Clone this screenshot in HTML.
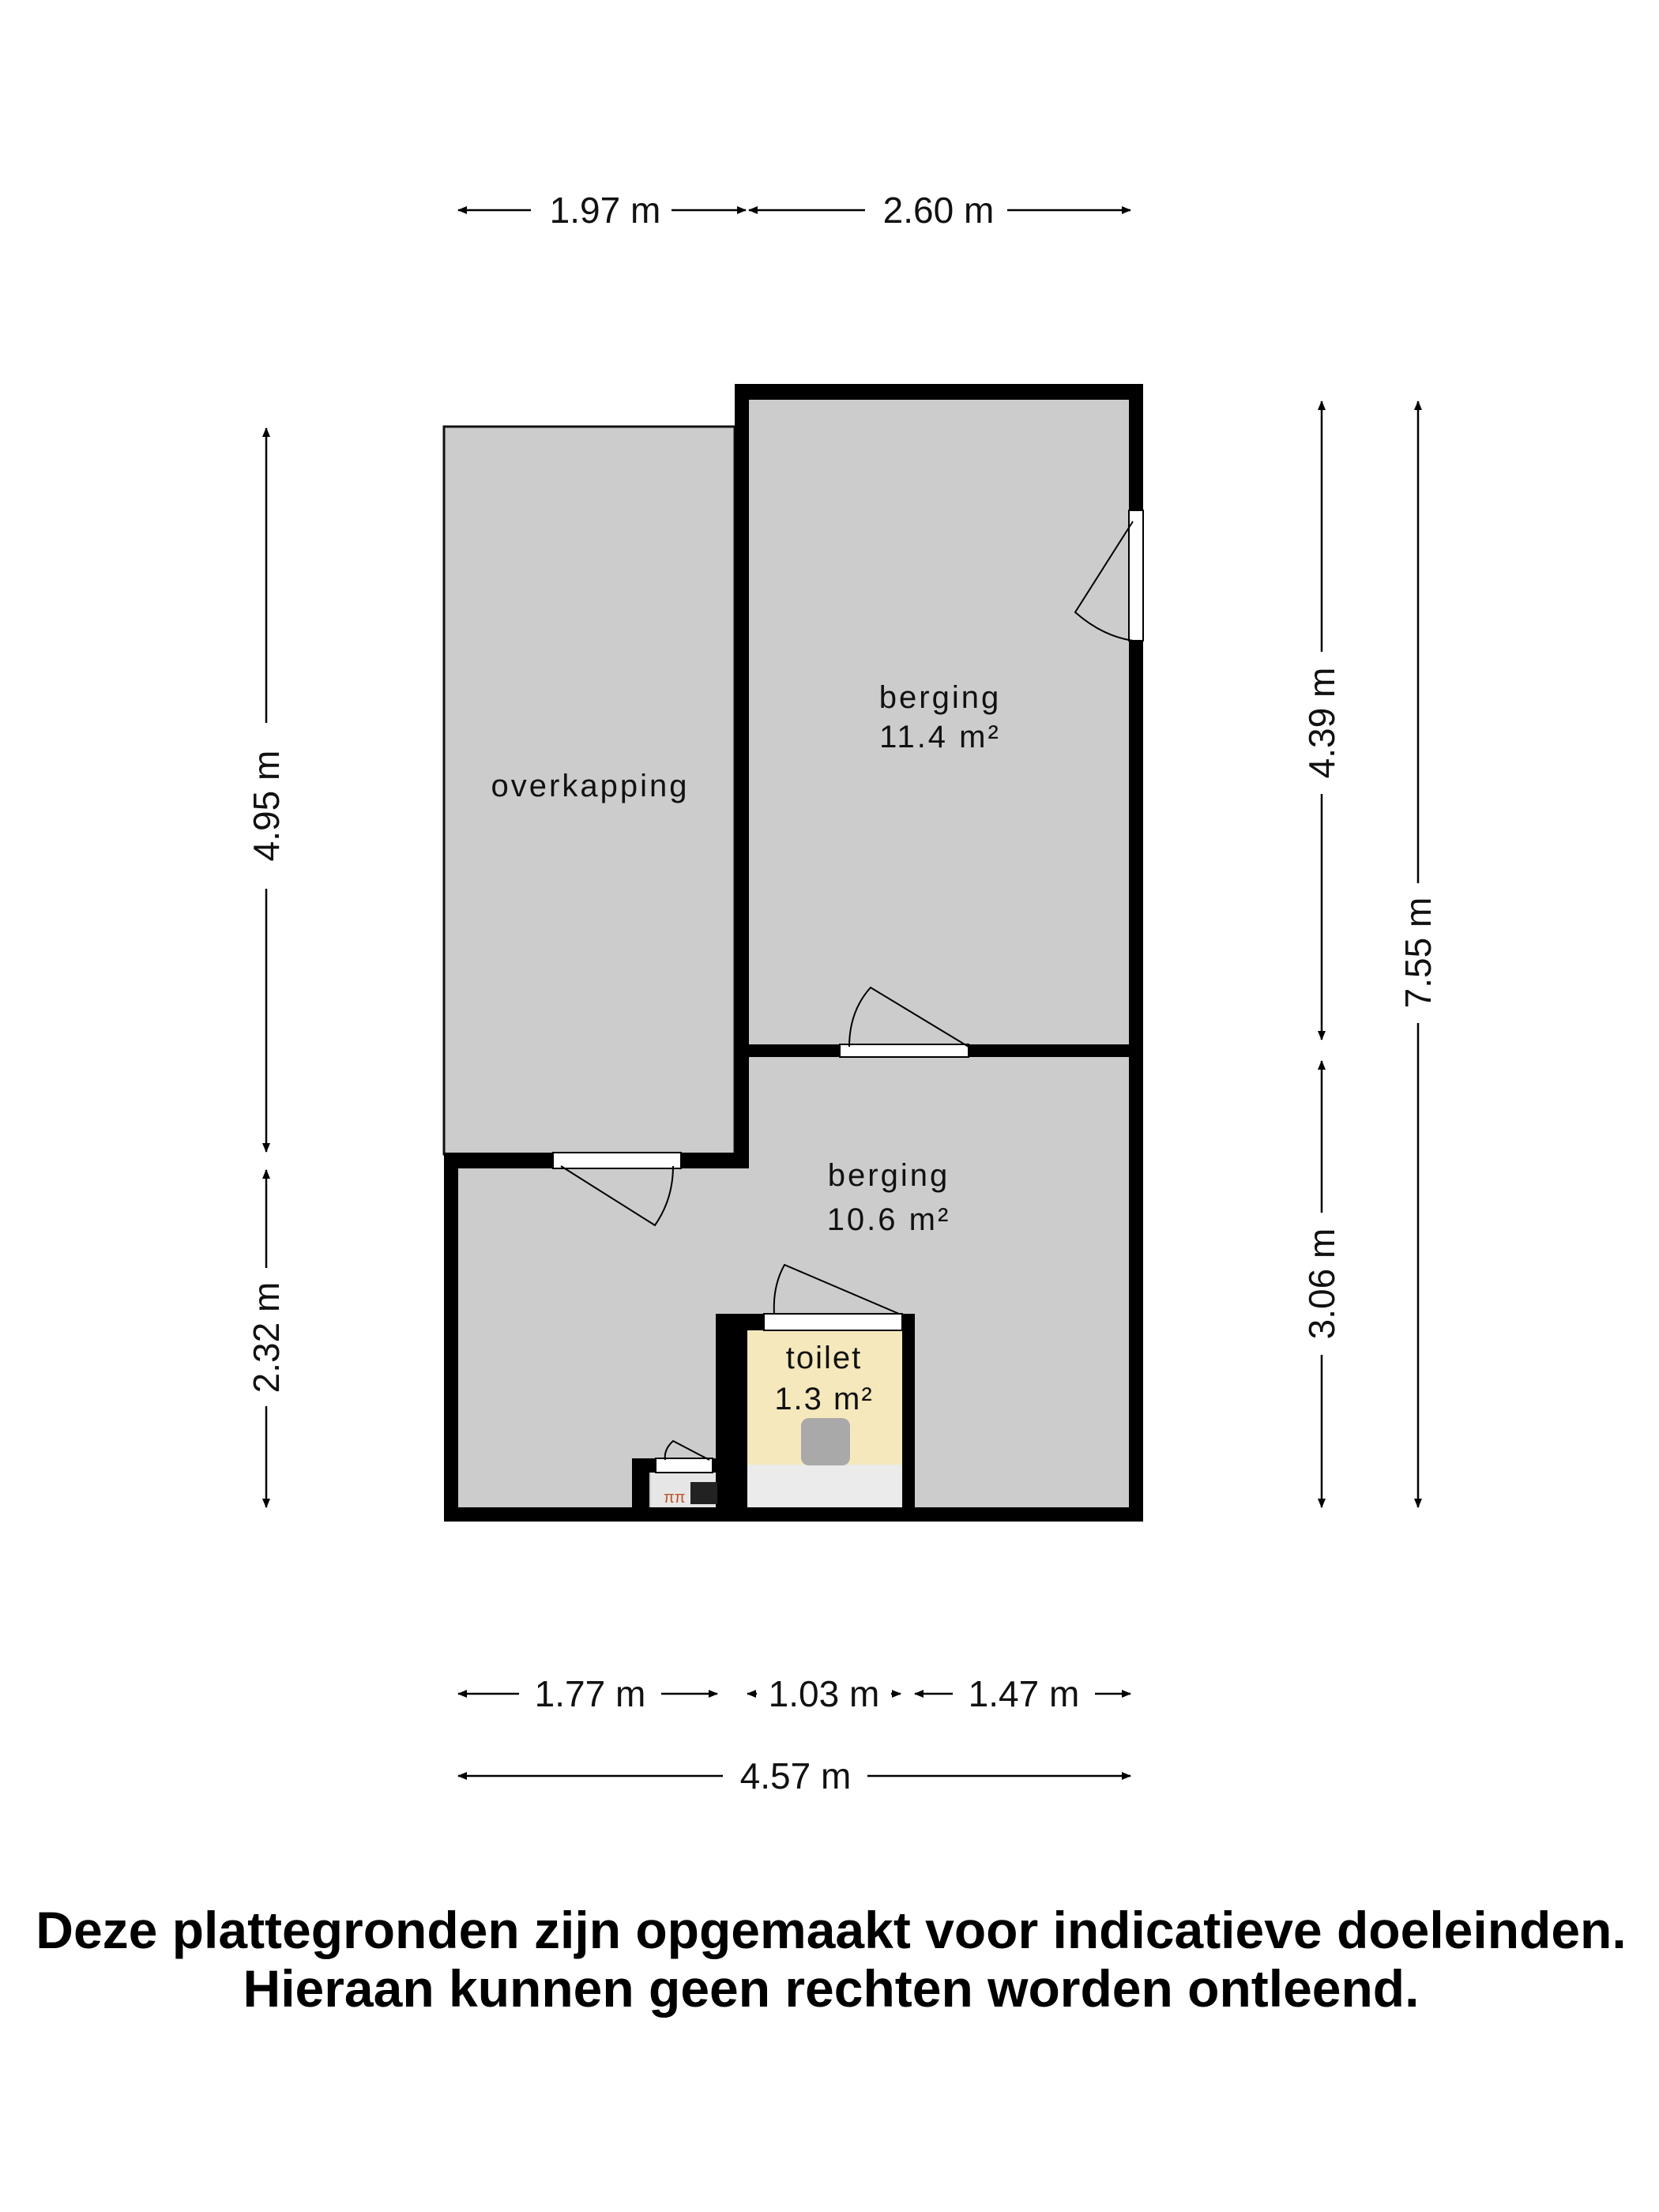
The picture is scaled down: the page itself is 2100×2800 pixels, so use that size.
<!DOCTYPE html>
<html><head><style>
html,body{margin:0;padding:0;background:#fff;}
svg{display:block;font-family:"Liberation Sans",sans-serif;}
</style></head><body>
<svg width="2100" height="2800" viewBox="0 0 2100 2800" xmlns="http://www.w3.org/2000/svg">
<defs>
<marker id="a" markerWidth="12" markerHeight="10" refX="11" refY="5" orient="auto-start-reverse" markerUnits="userSpaceOnUse"><path d="M0,0 L12,5 L0,10 z" fill="#000"/></marker>
</defs>
<rect x="562" y="540" width="368" height="921" fill="#cccccc" stroke="#111" stroke-width="3"/>
<rect x="940" y="500" width="500" height="1410" fill="#cccccc"/>
<rect x="575" y="1470" width="370" height="440" fill="#cccccc"/>
<rect x="946" y="1684" width="196" height="170" fill="#f5e8bc"/>
<rect x="946" y="1854" width="196" height="54" fill="#ebebeb"/>
<rect x="824" y="1864" width="86" height="44" fill="#e6e6e6"/>
<rect x="1014" y="1795" width="62" height="60" rx="10" fill="#a9a9a9"/>
<g fill="#000">
<rect x="930" y="486" width="517" height="20"/>
<rect x="1429" y="486" width="18" height="1440"/>
<rect x="930" y="486" width="18" height="993"/>
<rect x="930" y="1322" width="517" height="16"/>
<rect x="562" y="1459" width="386" height="20"/>
<rect x="562" y="1459" width="18" height="467"/>
<rect x="562" y="1908" width="885" height="18"/>
<rect x="906" y="1663" width="40" height="263"/>
<rect x="1142" y="1663" width="16" height="263"/>
<rect x="906" y="1663" width="252" height="21"/>
<rect x="800" y="1846" width="22" height="80"/>
<rect x="800" y="1846" width="108" height="18"/>
</g>
<rect x="874" y="1876" width="34" height="28" fill="#222"/>
<text x="840" y="1902" font-size="20" fill="#c0502a">ππ</text>
<g stroke="#000" stroke-width="2" fill="none">
<rect x="1429" y="646" width="18" height="165" fill="#fff"/>
<path d="M1434,660 L1361,775 Q1395,805 1434,811"/>
<rect x="1063" y="1322" width="163" height="16" fill="#fff"/>
<path d="M1226,1325 L1102,1250 Q1075,1280 1075,1325"/>
<rect x="700" y="1459" width="162" height="20" fill="#fff"/>
<path d="M710,1476 L829,1551 Q852,1518 852,1476"/>
<rect x="967" y="1663" width="175" height="21" fill="#fff"/>
<path d="M1138,1663 L993,1601 Q978,1628 980,1663"/>
<rect x="830" y="1846" width="72" height="18" fill="#fff"/>
<path d="M898,1848 L852,1824 Q840,1835 842,1848"/>
</g>
<g font-size="40" text-anchor="middle" letter-spacing="3" fill="#111">
<text x="747" y="1008">overkapping</text>
<text x="1190" y="896">berging</text>
<text x="1190" y="946">11.4 m²</text>
<text x="1125" y="1501">berging</text>
<text x="1125" y="1557">10.6 m²</text>
<text x="1043" y="1732" letter-spacing="2">toilet</text>
<text x="1043" y="1784" letter-spacing="2">1.3 m²</text>
</g>
<g stroke="#000" stroke-width="2.5" fill="none">
<line x1="580" y1="266" x2="672" y2="266" marker-start="url(#a)"/>
<line x1="850" y1="266" x2="944" y2="266" marker-end="url(#a)"/>
<line x1="948" y1="266" x2="1095" y2="266" marker-start="url(#a)"/>
<line x1="1275" y1="266" x2="1431" y2="266" marker-end="url(#a)"/>
<line x1="337" y1="542" x2="337" y2="915" marker-start="url(#a)"/>
<line x1="337" y1="1125" x2="337" y2="1458" marker-end="url(#a)"/>
<line x1="337" y1="1481" x2="337" y2="1605" marker-start="url(#a)"/>
<line x1="337" y1="1780" x2="337" y2="1908" marker-end="url(#a)"/>
<line x1="1673" y1="508" x2="1673" y2="825" marker-start="url(#a)"/>
<line x1="1673" y1="1005" x2="1673" y2="1316" marker-end="url(#a)"/>
<line x1="1673" y1="1343" x2="1673" y2="1535" marker-start="url(#a)"/>
<line x1="1673" y1="1715" x2="1673" y2="1908" marker-end="url(#a)"/>
<line x1="1795" y1="508" x2="1795" y2="1118" marker-start="url(#a)"/>
<line x1="1795" y1="1295" x2="1795" y2="1908" marker-end="url(#a)"/>
<line x1="580" y1="2144" x2="657" y2="2144" marker-start="url(#a)"/>
<line x1="837" y1="2144" x2="908" y2="2144" marker-end="url(#a)"/>
<line x1="946" y1="2144" x2="958" y2="2144" marker-start="url(#a)"/>
<line x1="1128" y1="2144" x2="1140" y2="2144" marker-end="url(#a)"/>
<line x1="1158" y1="2144" x2="1206" y2="2144" marker-start="url(#a)"/>
<line x1="1386" y1="2144" x2="1431" y2="2144" marker-end="url(#a)"/>
<line x1="580" y1="2248" x2="915" y2="2248" marker-start="url(#a)"/>
<line x1="1098" y1="2248" x2="1431" y2="2248" marker-end="url(#a)"/>
</g>
<g font-size="46" text-anchor="middle" fill="#111">
<text x="766" y="282">1.97 m</text>
<text x="1188" y="282">2.60 m</text>
<text x="747" y="2160">1.77 m</text>
<text x="1043" y="2160">1.03 m</text>
<text x="1296" y="2160">1.47 m</text>
<text x="1007" y="2264">4.57 m</text>
<text transform="translate(353,1020) rotate(-90)">4.95 m</text>
<text transform="translate(353,1693) rotate(-90)">2.32 m</text>
<text transform="translate(1689,915) rotate(-90)">4.39 m</text>
<text transform="translate(1689,1625) rotate(-90)">3.06 m</text>
<text transform="translate(1811,1206) rotate(-90)">7.55 m</text>
</g>
<g font-size="66" font-weight="bold" text-anchor="middle" fill="#000">
<text x="1052" y="2466">Deze plattegronden zijn opgemaakt voor indicatieve doeleinden.</text>
<text x="1052" y="2540">Hieraan kunnen geen rechten worden ontleend.</text>
</g>
</svg>
</body></html>
